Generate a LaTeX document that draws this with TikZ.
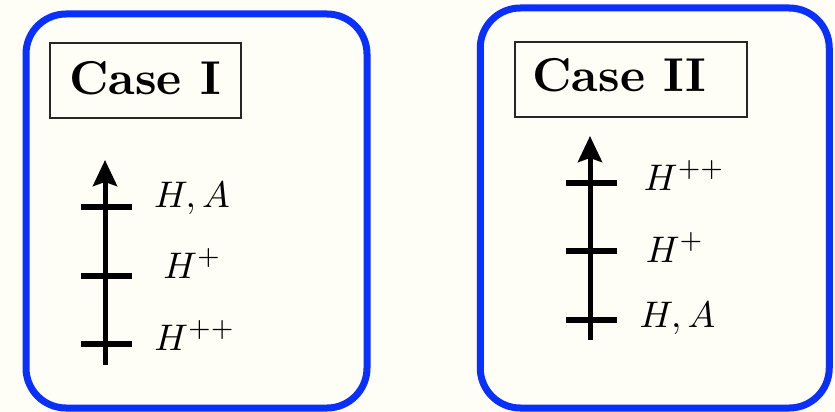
\documentclass[tikz,border=0pt]{standalone}
\usetikzlibrary{arrows.meta}
\definecolor{bg}{RGB}{254,254,246}
\definecolor{frameblue}{RGB}{10,48,255}
\tikzset{
  panel/.style={draw=frameblue, line width=7pt, rounded corners=40pt, inner sep=0pt},
  casebox/.style={draw=black!85, line width=2pt, minimum height=75pt, inner sep=0pt},
  casetext/.style={font=\bfseries, inner sep=0pt, scale=4.75},
  axisline/.style={line width=5pt, -{Stealth[length=26pt,width=24pt,inset=4pt]}},
  levelbar/.style={line width=6pt},
  lvl/.style={inner sep=0pt, anchor=base, scale=3.7}
}
\begin{document}
\begin{tikzpicture}[x=1pt,y=-1pt]
\useasboundingbox[fill=bg] (0,0) rectangle (835,412);
% panels
\node[panel, minimum width=341pt, minimum height=394pt] (p1) at (196.5,211) {};
\node[panel, minimum width=349pt, minimum height=400pt] (p2) at (654.75,208) {};
% case boxes
\node[casebox, minimum width=191pt] (c1) at (145.5,80.5) {};
\node[casetext, anchor=base] (t1) at (145,94) {Case I};
\node[casebox, minimum width=232pt] (c2) at (631,79.5) {};
\node[casetext, anchor=base west] (t2) at (531.5,91) {Case II};
% left axis
\coordinate (a1b) at (105,365);
\coordinate (a1t) at (105,160);
\draw[axisline] (a1b) -- (a1t);
\coordinate (l1a) at (81,207);  \coordinate (r1a) at (132,207);
\coordinate (l1b) at (81,276);  \coordinate (r1b) at (132,276);
\coordinate (l1c) at (81,344);  \coordinate (r1c) at (132,344);
\draw[levelbar] (l1a) -- (r1a);
\draw[levelbar] (l1b) -- (r1b);
\draw[levelbar] (l1c) -- (r1c);
\node[lvl] (n1a) at (192,207) {$H,A$};
\node[lvl] (n1b) at (192.5,278) {$H^+$};
\node[lvl] (n1c) at (195,350) {$H^{++}$};
% right axis
\coordinate (a2b) at (590,340);
\coordinate (a2t) at (590,136);
\draw[axisline] (a2b) -- (a2t);
\coordinate (l2a) at (566,183);  \coordinate (r2a) at (617,183);
\coordinate (l2b) at (566,251);  \coordinate (r2b) at (617,251);
\coordinate (l2c) at (566,320);  \coordinate (r2c) at (617,320);
\draw[levelbar] (l2a) -- (r2a);
\draw[levelbar] (l2b) -- (r2b);
\draw[levelbar] (l2c) -- (r2c);
\node[lvl] (n2a) at (684.5,190) {$H^{++}$};
\node[lvl] (n2b) at (675,262) {$H^+$};
\node[lvl] (n2c) at (677.5,327) {$H,A$};
\end{tikzpicture}
\end{document}
